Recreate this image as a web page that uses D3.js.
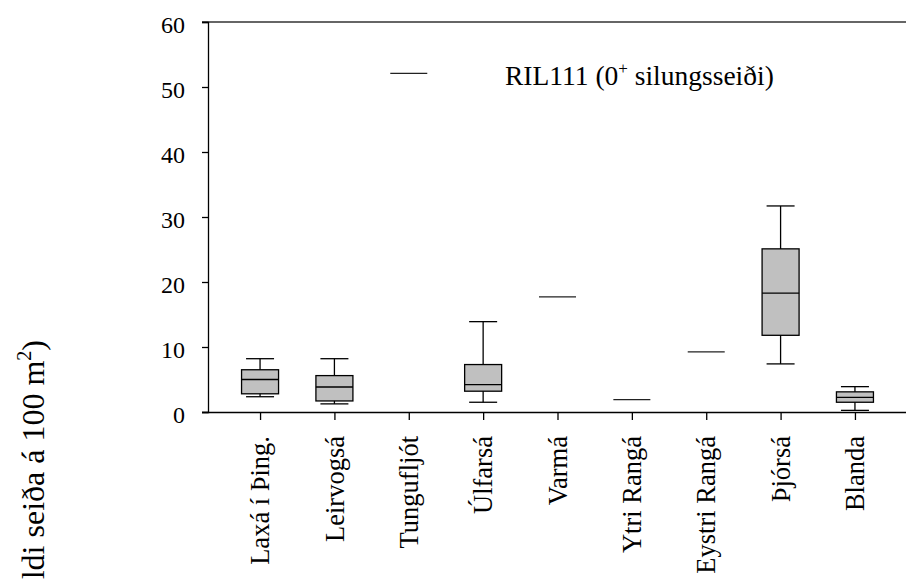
<!DOCTYPE html>
<html>
<head>
<meta charset="utf-8">
<script src="https://cdn.jsdelivr.net/npm/d3@7"></script>
<style>
body { margin: 0; background: #fff; }
text { font-family: "Liberation Serif", "Times New Roman", serif; fill: #000; }
</style>
</head>
<body>
<div id="chart"></div>
<script>
// rivers, and box stats (null where only one value)
var rivers = ["Laxá í Þing.", "Leirvogsá", "Tungufljót", "Úlfarsá", "Varmá", "Ytri Rangá", "Eystri Rangá", "Þjórsá", "Blanda"];
var whiskerLow  = [2.35, 1.25, null, 1.5, null, null, null, 7.4, 0.25];
var q1          = [2.8, 1.7, null, 3.2, null, null, null, 11.8, 1.5];
var median      = [5.0, 3.85, 52.1, 4.2, 17.7, 1.9, 9.25, 18.3, 2.25];
var q3          = [6.5, 5.6, null, 7.3, null, null, null, 25.1, 3.1];
var whiskerHigh = [8.2, 8.2, null, 13.9, null, null, null, 31.7, 3.9];
var yTicks = [0, 10, 20, 30, 40, 50, 60];

var width = 906, height = 579;
var plotL = 208, plotR = 907, plotT = 22, plotB = 412;

var svg = d3.select("#chart")
    .append("svg")
    .attr("width", width)
    .attr("height", height);

var x = d3.scalePoint()
    .domain(rivers)
    .range([plotL, plotR])
    .padding(0.7);

var y = d3.scaleLinear()
    .domain([0, 60])
    .range([plotB, plotT]);

var boxW = 37, capW = 28;

var data = rivers.map(function(r, i) {
    return {name: r, lo: whiskerLow[i], q1: q1[i], med: median[i], q3: q3[i], hi: whiskerHigh[i]};
});

// top frame line
svg.append("line")
    .attr("x1", plotL - 6).attr("x2", plotR)
    .attr("y1", plotT).attr("y2", plotT)
    .attr("stroke", "#333").attr("stroke-width", 1.3);

// y axis
var yAxis = svg.append("g")
    .attr("transform", `translate(${plotL},0)`)
    .call(d3.axisLeft(y).tickValues(yTicks).tickSize(6).tickPadding(17));
yAxis.selectAll("path, line").attr("stroke", "#000").attr("stroke-width", 1.3);
yAxis.selectAll("text")
    .attr("font-size", "24px")
    .attr("dy", "0.42em")
    .style("font-family", "Liberation Serif");

// x axis
var xAxis = svg.append("g")
    .attr("transform", `translate(0,${plotB})`)
    .call(d3.axisBottom(x).tickSize(8).tickSizeOuter(0));
xAxis.select(".domain").attr("d", `M${plotL - 6},0.5H${plotR}`);
xAxis.selectAll("path, line").attr("stroke", "#000").attr("stroke-width", 1.3);
xAxis.selectAll("text")
    .attr("font-size", "26.5px")
    .style("font-family", "Liberation Serif")
    .attr("text-anchor", "end")
    .attr("transform", "rotate(-90)")
    .attr("x", -24)
    .attr("y", 0)
    .attr("dy", "0.33em");

var g = svg.append("g");

var boxes = data.filter(d => d.q1 != null);
var singles = data.filter(d => d.q1 == null);

// whiskers
g.selectAll(".whisker")
    .data(boxes).enter()
    .append("line")
    .attr("x1", d => x(d.name)).attr("x2", d => x(d.name))
    .attr("y1", d => y(d.lo)).attr("y2", d => y(d.hi))
    .attr("stroke", "#000").attr("stroke-width", 1.3);

g.selectAll(".capHi")
    .data(boxes).enter()
    .append("line")
    .attr("x1", d => x(d.name) - capW / 2).attr("x2", d => x(d.name) + capW / 2)
    .attr("y1", d => y(d.hi)).attr("y2", d => y(d.hi))
    .attr("stroke", "#000").attr("stroke-width", 1.3);

g.selectAll(".capLo")
    .data(boxes).enter()
    .append("line")
    .attr("x1", d => x(d.name) - capW / 2).attr("x2", d => x(d.name) + capW / 2)
    .attr("y1", d => y(d.lo)).attr("y2", d => y(d.lo))
    .attr("stroke", "#000").attr("stroke-width", 1.3);

g.selectAll(".box")
    .data(boxes).enter()
    .append("rect")
    .attr("x", d => x(d.name) - boxW / 2)
    .attr("width", boxW)
    .attr("y", d => y(d.q3))
    .attr("height", d => y(d.q1) - y(d.q3))
    .attr("fill", "#c0c0c0")
    .attr("stroke", "#000").attr("stroke-width", 1.3);

g.selectAll(".med")
    .data(boxes).enter()
    .append("line")
    .attr("x1", d => x(d.name) - boxW / 2).attr("x2", d => x(d.name) + boxW / 2)
    .attr("y1", d => y(d.med)).attr("y2", d => y(d.med))
    .attr("stroke", "#000").attr("stroke-width", 1.3);

// rivers with a single value, drawn as a flat line
g.selectAll(".single")
    .data(singles).enter()
    .append("line")
    .attr("x1", d => x(d.name) - boxW / 2).attr("x2", d => x(d.name) + boxW / 2)
    .attr("y1", d => y(d.med)).attr("y2", d => y(d.med))
    .attr("stroke", "#222").attr("stroke-width", 1.3);

// legend text
var leg = svg.append("text")
    .attr("x", 505)
    .attr("y", 85)
    .attr("font-size", "27.5px");
leg.append("tspan").text("RIL111 (0");
leg.append("tspan").attr("dy", -11).attr("font-size", "17px").text("+");
leg.append("tspan").attr("dy", 11).text(" silungsseiði)");

// y title (cut off by the bottom edge, as in the original)
var title = svg.append("text")
    .attr("transform", "rotate(-90)")
    .attr("x", -340)
    .attr("y", 44)
    .attr("text-anchor", "end")
    .attr("font-size", "32px");
title.append("tspan").text("Þéttleiki (fjöldi seiða á 100 m");
title.append("tspan").attr("dy", -13).attr("font-size", "20px").text("2");
title.append("tspan").attr("dy", 13).text(")");
</script>
</body>
</html>
